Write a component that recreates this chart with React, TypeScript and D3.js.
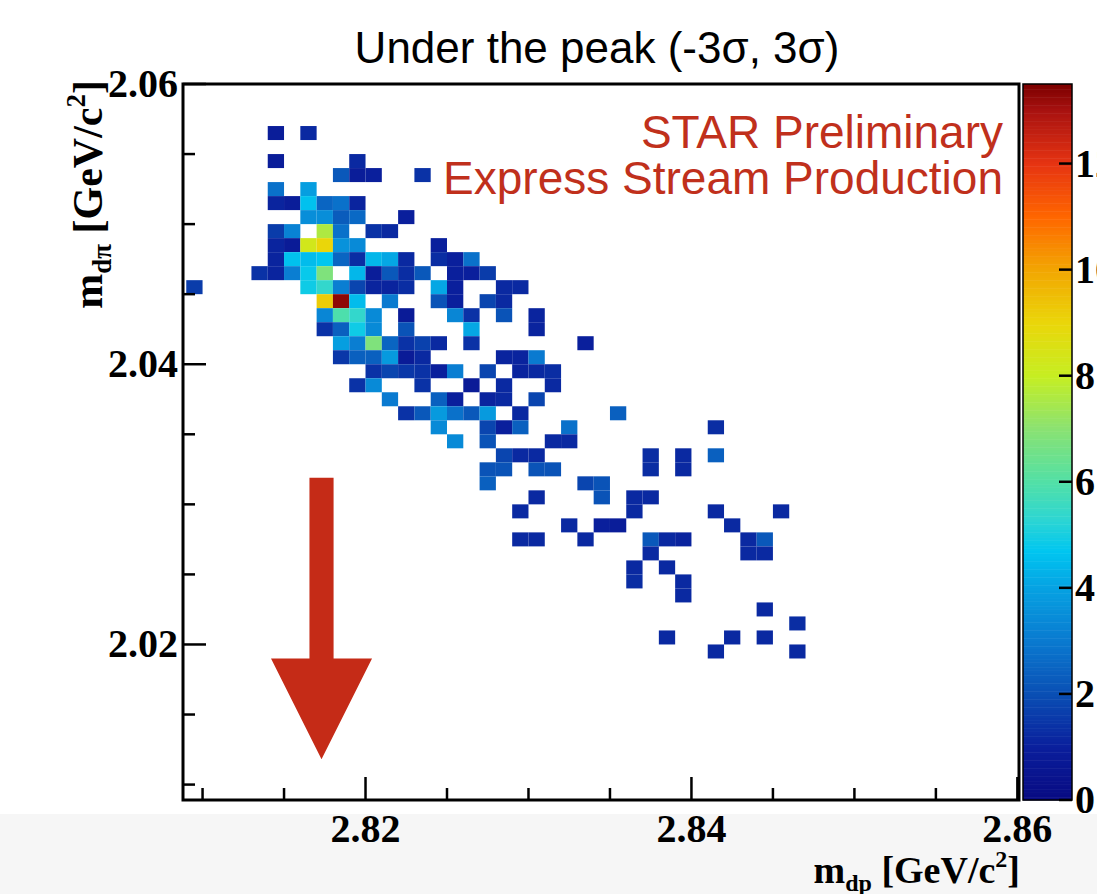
import React from 'react';
import * as d3 from 'd3';

// ---------- data ----------
const X_DOMAIN: [number, number] = [2.8088, 2.8601];
const Y_DOMAIN: [number, number] = [2.0089, 2.06];
const Z_DOMAIN: [number, number] = [0, 13.5];
const BIN_W = 0.001;
const BIN_H = 0.001;

const xMajorTicks = [2.82, 2.84, 2.86];
const xMinorTicks = [2.81, 2.815, 2.825, 2.83, 2.835, 2.845, 2.85, 2.855];
const yMajorTicks = [2.02, 2.04, 2.06];
const yMinorTicks = [2.01, 2.015, 2.025, 2.03, 2.035, 2.045, 2.05, 2.055];
const zTicks = [0, 2, 4, 6, 8, 10, 12];

const paletteValues = [0, 1, 2, 3, 4, 4.7, 5.3, 6, 7, 8, 9, 10, 11, 12, 13, 13.5];
const paletteColors = [
  '#080a82', '#0a1f9c', '#0a4fb4', '#0a7ad0', '#06a2e2', '#00c6f0', '#2ed6d2',
  '#52e0a6', '#8ae272', '#c6ee22', '#ead60a', '#f2a602', '#ff6600', '#e63412',
  '#a81210', '#7c0000',
];

// [x bin centre, y bin centre, content]
const cells: [number, number, number][] = [
  // 2.0565
  [2.8145, 2.0565, 0.9], [2.8165, 2.0565, 1.2],
  // 2.0545
  [2.8145, 2.0545, 0.9], [2.8195, 2.0545, 1.2],
  // 2.0535
  [2.8185, 2.0535, 2.2], [2.8195, 2.0535, 0.9], [2.8205, 2.0535, 1.0], [2.8235, 2.0535, 1.4],
  // 2.0525
  [2.8145, 2.0525, 2.8], [2.8165, 2.0525, 3.9],
  // 2.0515
  [2.8145, 2.0515, 1.1], [2.8155, 2.0515, 0.9], [2.8165, 2.0515, 4.6], [2.8175, 2.0515, 2.5],
  [2.8185, 2.0515, 2.8], [2.8195, 2.0515, 1.1],
  // 2.0505
  [2.8165, 2.0505, 3.5], [2.8175, 2.0505, 3.5], [2.8185, 2.0505, 2.3], [2.8195, 2.0505, 2.6],
  [2.8225, 2.0505, 1.0],
  // 2.0495
  [2.8145, 2.0495, 1.6], [2.8155, 2.0495, 3.2], [2.8175, 2.0495, 7.6], [2.8185, 2.0495, 2.8],
  [2.8205, 2.0495, 1.4], [2.8215, 2.0495, 1.2],
  // 2.0485
  [2.8145, 2.0485, 1.1], [2.8155, 2.0485, 0.8], [2.8165, 2.0485, 8.3], [2.8175, 2.0485, 9.0],
  [2.8185, 2.0485, 3.6], [2.8195, 2.0485, 3.4], [2.8245, 2.0485, 1.0],
  // 2.0475
  [2.8145, 2.0475, 1.1], [2.8155, 2.0475, 4.6], [2.8165, 2.0475, 4.5], [2.8175, 2.0475, 4.7],
  [2.8185, 2.0475, 2.5], [2.8195, 2.0475, 1.3], [2.8205, 2.0475, 4.4], [2.8215, 2.0475, 4.1],
  [2.8225, 2.0475, 1.2], [2.8245, 2.0475, 1.3], [2.8255, 2.0475, 1.0], [2.8265, 2.0475, 2.8],
  // 2.0465
  [2.8135, 2.0465, 1.4], [2.8145, 2.0465, 1.1], [2.8155, 2.0465, 3.1], [2.8165, 2.0465, 4.8],
  [2.8175, 2.0465, 6.8], [2.8195, 2.0465, 4.4], [2.8205, 2.0465, 0.9], [2.8215, 2.0465, 2.2],
  [2.8225, 2.0465, 1.3], [2.8235, 2.0465, 2.2], [2.8255, 2.0465, 1.0], [2.8265, 2.0465, 1.0],
  [2.8275, 2.0465, 1.6],
  // 2.0455
  [2.8095, 2.0455, 1.6], [2.8165, 2.0455, 4.9], [2.8175, 2.0455, 5.4], [2.8185, 2.0455, 3.1],
  [2.8195, 2.0455, 1.8], [2.8205, 2.0455, 1.1], [2.8215, 2.0455, 1.1], [2.8225, 2.0455, 1.3],
  [2.8245, 2.0455, 4.1], [2.8255, 2.0455, 1.0], [2.8285, 2.0455, 1.2], [2.8295, 2.0455, 1.2],
  // 2.0445
  [2.8175, 2.0445, 9.2], [2.8185, 2.0445, 13.3], [2.8195, 2.0445, 4.5], [2.8215, 2.0445, 3.0],
  [2.8245, 2.0445, 2.1], [2.8255, 2.0445, 1.0], [2.8275, 2.0445, 1.8], [2.8285, 2.0445, 1.2],
  // 2.0435
  [2.8175, 2.0435, 3.3], [2.8185, 2.0435, 5.9], [2.8195, 2.0435, 5.4], [2.8205, 2.0435, 3.4],
  [2.8225, 2.0435, 0.8], [2.8255, 2.0435, 3.3], [2.8265, 2.0435, 1.4], [2.8285, 2.0435, 2.1],
  [2.8305, 2.0435, 1.1],
  // 2.0425
  [2.8175, 2.0425, 1.4], [2.8185, 2.0425, 2.4], [2.8195, 2.0425, 4.9], [2.8205, 2.0425, 3.4],
  [2.8225, 2.0425, 2.1], [2.8265, 2.0425, 4.1], [2.8305, 2.0425, 1.1],
  // 2.0415
  [2.8185, 2.0415, 3.9], [2.8195, 2.0415, 3.1], [2.8205, 2.0415, 6.8], [2.8215, 2.0415, 2.5],
  [2.8225, 2.0415, 1.4], [2.8235, 2.0415, 1.7], [2.8245, 2.0415, 1.2], [2.8265, 2.0415, 1.4],
  [2.8335, 2.0415, 1.0],
  // 2.0405
  [2.8185, 2.0405, 1.5], [2.8195, 2.0405, 2.4], [2.8205, 2.0405, 2.4], [2.8215, 2.0405, 3.8],
  [2.8225, 2.0405, 0.8], [2.8235, 2.0405, 1.2], [2.8285, 2.0405, 1.1], [2.8295, 2.0405, 1.1],
  [2.8305, 2.0405, 3.0],
  // 2.0395
  [2.8205, 2.0395, 1.4], [2.8215, 2.0395, 1.8], [2.8225, 2.0395, 1.5], [2.8235, 2.0395, 1.4],
  [2.8245, 2.0395, 1.0], [2.8255, 2.0395, 3.1], [2.8275, 2.0395, 1.8], [2.8295, 2.0395, 1.1],
  [2.8305, 2.0395, 1.2], [2.8315, 2.0395, 1.3],
  // 2.0385
  [2.8195, 2.0385, 1.4], [2.8205, 2.0385, 3.4], [2.8235, 2.0385, 1.4], [2.8265, 2.0385, 0.8],
  [2.8285, 2.0385, 1.2], [2.8315, 2.0385, 1.2],
  // 2.0375
  [2.8215, 2.0375, 3.0], [2.8245, 2.0375, 2.4], [2.8255, 2.0375, 1.0], [2.8275, 2.0375, 1.1],
  [2.8285, 2.0375, 1.2], [2.8305, 2.0375, 1.8],
  // 2.0365
  [2.8225, 2.0365, 1.4], [2.8235, 2.0365, 2.2], [2.8245, 2.0365, 3.8], [2.8255, 2.0365, 2.8],
  [2.8265, 2.0365, 2.2], [2.8275, 2.0365, 3.8], [2.8295, 2.0365, 1.2], [2.8355, 2.0365, 2.4],
  // 2.0355
  [2.8245, 2.0355, 3.4], [2.8275, 2.0355, 1.8], [2.8285, 2.0355, 1.0], [2.8295, 2.0355, 2.4],
  [2.8325, 2.0355, 2.8], [2.8415, 2.0355, 1.3],
  // 2.0345
  [2.8255, 2.0345, 3.4], [2.8275, 2.0345, 2.1], [2.8315, 2.0345, 1.2], [2.8325, 2.0345, 1.2],
  // 2.0335
  [2.8285, 2.0335, 1.8], [2.8295, 2.0335, 1.2], [2.8305, 2.0335, 1.2], [2.8375, 2.0335, 1.3],
  [2.8395, 2.0335, 1.2], [2.8415, 2.0335, 2.4],
  // 2.0325
  [2.8275, 2.0325, 2.1], [2.8285, 2.0325, 2.1], [2.8305, 2.0325, 2.1], [2.8315, 2.0325, 2.1],
  [2.8375, 2.0325, 1.3], [2.8395, 2.0325, 1.2],
  // 2.0315
  [2.8275, 2.0315, 2.4], [2.8335, 2.0315, 1.8], [2.8345, 2.0315, 2.1],
  // 2.0305
  [2.8305, 2.0305, 1.2], [2.8345, 2.0305, 2.1], [2.8365, 2.0305, 1.2], [2.8375, 2.0305, 1.2],
  // 2.0295
  [2.8295, 2.0295, 1.2], [2.8365, 2.0295, 1.2], [2.8415, 2.0295, 1.2], [2.8455, 2.0295, 1.2],
  // 2.0285
  [2.8325, 2.0285, 1.2], [2.8345, 2.0285, 1.0], [2.8355, 2.0285, 0.9], [2.8425, 2.0285, 1.2],
  // 2.0275
  [2.8295, 2.0275, 1.2], [2.8305, 2.0275, 1.2], [2.8335, 2.0275, 1.2], [2.8375, 2.0275, 2.2],
  [2.8385, 2.0275, 1.2], [2.8395, 2.0275, 1.1], [2.8435, 2.0275, 1.2], [2.8445, 2.0275, 2.2],
  // 2.0265
  [2.8375, 2.0265, 1.2], [2.8435, 2.0265, 1.2], [2.8445, 2.0265, 1.2],
  // 2.0255
  [2.8365, 2.0255, 1.2], [2.8385, 2.0255, 1.2],
  // 2.0245
  [2.8365, 2.0245, 1.3], [2.8395, 2.0245, 1.2],
  // 2.0235
  [2.8395, 2.0235, 1.2],
  // 2.0225
  [2.8445, 2.0225, 1.2],
  // 2.0215
  [2.8465, 2.0215, 1.3],
  // 2.0205
  [2.8385, 2.0205, 1.2], [2.8425, 2.0205, 1.2], [2.8445, 2.0205, 1.2],
  // 2.0195
  [2.8415, 2.0195, 1.2], [2.8465, 2.0195, 1.2],
];

// arrow annotation in data coordinates
const arrowX = 2.8173;
const arrowTopY = 2.0319;
const arrowHeadBaseY = 2.0190;
const arrowTipY = 2.0118;
const arrowShaftHalfW = 0.00074;
const arrowHeadHalfW = 0.0031;

// ---------- layout ----------
const W = 1097;
const H = 894;
const PL = 183, PR = 1019, PT = 84, PB = 800;
const CB_L = 1023, CB_R = 1072;

const serif = "'Liberation Serif', 'Times New Roman', serif";
const sans = "'Liberation Sans', Arial, Helvetica, sans-serif";

export default function App() {
  const x = d3.scaleLinear().domain(X_DOMAIN).range([PL, PR]);
  const y = d3.scaleLinear().domain(Y_DOMAIN).range([PB, PT]);
  const zy = d3.scaleLinear().domain(Z_DOMAIN).range([PB, PT]);
  const color = d3.scaleLinear<string>().domain(paletteValues).range(paletteColors)
    .interpolate(d3.interpolateRgb).clamp(true);

  const slices = d3.range(Z_DOMAIN[0], Z_DOMAIN[1], 0.05);

  const arrowPath = [
    [arrowX - arrowShaftHalfW, arrowTopY],
    [arrowX + arrowShaftHalfW, arrowTopY],
    [arrowX + arrowShaftHalfW, arrowHeadBaseY],
    [arrowX + arrowHeadHalfW, arrowHeadBaseY],
    [arrowX, arrowTipY],
    [arrowX - arrowHeadHalfW, arrowHeadBaseY],
    [arrowX - arrowShaftHalfW, arrowHeadBaseY],
  ].map(([a, b]) => `${x(a)},${y(b)}`).join(' ');

  return (
    <svg width={W} height={H} style={{ position: 'absolute', left: 0, top: 0, background: '#fff' }}>
      <rect x={0} y={0} width={W} height={H} fill="#ffffff" />
      <rect x={0} y={814} width={W} height={H - 814} fill="#f6f6f6" />

      {/* title */}
      <text x={597} y={63} textAnchor="middle" fontFamily={sans} fontSize={44} fill="#000">
        Under the peak (-3σ, 3σ)
      </text>

      {/* cells */}
      <g>
        {cells.map(([cx, cy, v], k) => {
          const x0 = x(cx - BIN_W / 2), x1 = x(cx + BIN_W / 2);
          const y0 = y(cy + BIN_H / 2), y1 = y(cy - BIN_H / 2);
          return <rect key={k} x={x0} y={y0} width={x1 - x0} height={y1 - y0} fill={color(v)} />;
        })}
      </g>

      {/* arrow */}
      <polygon points={arrowPath} fill="#c52b17" />

      {/* STAR label */}
      <text x={1003} y={148} textAnchor="end" fontFamily={sans} fontSize={46} fill="#c0301c">STAR Preliminary</text>
      <text x={1003} y={194} textAnchor="end" fontFamily={sans} fontSize={46} fill="#c0301c">Express Stream Production</text>

      {/* frame */}
      <rect x={PL} y={PT} width={PR - PL} height={PB - PT} fill="none" stroke="#000" strokeWidth={3} />

      {/* x ticks */}
      {xMajorTicks.map(t => (
        <line key={'xM' + t} x1={x(t)} x2={x(t)} y1={PB} y2={PB - 23} stroke="#000" strokeWidth={2.5} />
      ))}
      {xMinorTicks.map(t => (
        <line key={'xm' + t} x1={x(t)} x2={x(t)} y1={PB} y2={PB - 12} stroke="#000" strokeWidth={2.5} />
      ))}
      {xMajorTicks.map(t => (
        <text key={'xl' + t} x={x(t)} y={842} textAnchor="middle" fontFamily={serif} fontWeight="bold" fontSize={40}>
          {t.toFixed(2)}
        </text>
      ))}

      {/* y ticks */}
      {yMajorTicks.map(t => (
        <line key={'yM' + t} x1={PL} x2={PL + 23} y1={y(t)} y2={y(t)} stroke="#000" strokeWidth={2.5} />
      ))}
      {yMinorTicks.map(t => (
        <line key={'ym' + t} x1={PL} x2={PL + 12} y1={y(t)} y2={y(t)} stroke="#000" strokeWidth={2.5} />
      ))}
      {yMajorTicks.map(t => (
        <text key={'yl' + t} x={178} y={y(t) + 13} textAnchor="end" fontFamily={serif} fontWeight="bold" fontSize={40}>
          {t.toFixed(2)}
        </text>
      ))}

      {/* axis titles */}
      <text x={1020} y={883} textAnchor="end" fontFamily={serif} fontWeight="bold" fontSize={38}>
        m<tspan fontSize={24} dy={8}>dp</tspan><tspan dy={-8}> [GeV/c</tspan><tspan fontSize={24} dy={-16}>2</tspan><tspan dy={16}>]</tspan>
      </text>
      <text transform={`translate(102, 80) rotate(-90)`} textAnchor="end" fontFamily={serif} fontWeight="bold" fontSize={42}>
        m<tspan fontSize={27} dy={9}>dπ</tspan><tspan dy={-9}> [GeV/c</tspan><tspan fontSize={27} dy={-17}>2</tspan><tspan dy={17}>]</tspan>
      </text>

      {/* colour bar */}
      <g>
        {slices.map((v, k) => (
          <rect key={k} x={CB_L} y={zy(Math.min(v + 0.05, Z_DOMAIN[1]))} width={CB_R - CB_L}
            height={zy(v) - zy(Math.min(v + 0.05, Z_DOMAIN[1])) + 0.5} fill={color(v + 0.025)} />
        ))}
        <rect x={CB_L} y={PT} width={CB_R - CB_L} height={PB - PT} fill="none" stroke="#000" strokeWidth={1.5} />
        {zTicks.map(t => (
          <line key={'zt' + t} x1={CB_R} x2={CB_R - 13} y1={zy(t)} y2={zy(t)} stroke="#000" strokeWidth={2.5} />
        ))}
        {zTicks.map(t => (
          <text key={'zl' + t} x={CB_R + 3} y={zy(t) + 13} textAnchor="start" fontFamily={serif} fontWeight="bold" fontSize={40}>
            {t}
          </text>
        ))}
      </g>
    </svg>
  );
}
